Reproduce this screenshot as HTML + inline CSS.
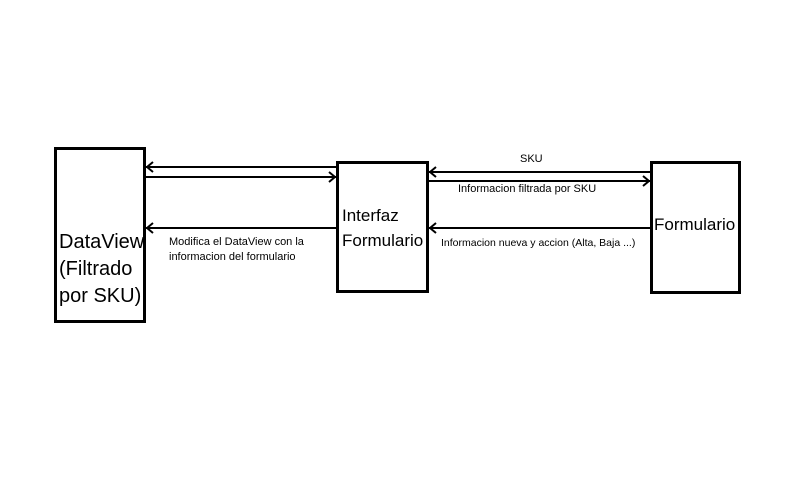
<!DOCTYPE html>
<html><head><style>
body{margin:0;width:800px;height:500px;background:#fff;position:relative;overflow:hidden;font-family:"Liberation Sans",sans-serif;}
.b{position:absolute;border:3px solid #000;box-sizing:border-box;}
.t{position:absolute;color:#000;white-space:nowrap;}
</style></head><body>
<div class="b" style="left:54px;top:147px;width:92px;height:176px"></div>
<div class="b" style="left:336px;top:161px;width:93px;height:132px"></div>
<div class="b" style="left:650px;top:161px;width:91px;height:133px"></div>
<svg width="800" height="500" style="position:absolute;left:0;top:0" fill="none" stroke="#000" stroke-width="2">
<line x1="146" y1="167" x2="336" y2="167"/><polyline points="153,162 147,167 153,172"/>
<line x1="146" y1="177" x2="336" y2="177"/><polyline points="329,172 335,177 329,182"/>
<line x1="146" y1="228" x2="336" y2="228"/><polyline points="153,223 147,228 153,233"/>
<line x1="429" y1="172" x2="650" y2="172"/><polyline points="436,167 430,172 436,177"/>
<line x1="429" y1="181" x2="650" y2="181"/><polyline points="643,176 649,181 643,186"/>
<line x1="429" y1="228" x2="650" y2="228"/><polyline points="436,223 430,228 436,233"/>
</svg>
<div class="t" style="left:59px;top:229px;font-size:20px;line-height:27px">DataView<br>(Filtrado<br>por SKU)</div>
<div class="t" style="left:342px;top:203px;font-size:17px;line-height:25px">Interfaz<br>Formulario</div>
<div class="t" style="left:654px;top:215px;font-size:17px">Formulario</div>
<div class="t" style="left:169px;top:235px;font-size:11px;line-height:15px">Modifica el DataView con la<br>informacion del formulario</div>
<div class="t" style="left:520px;top:153px;font-size:11px">SKU</div>
<div class="t" style="left:458px;top:183px;font-size:11px">Informacion filtrada por SKU</div>
<div class="t" style="left:441px;top:237px;font-size:10.5px">Informacion nueva y accion (Alta, Baja ...)</div>
</body></html>
